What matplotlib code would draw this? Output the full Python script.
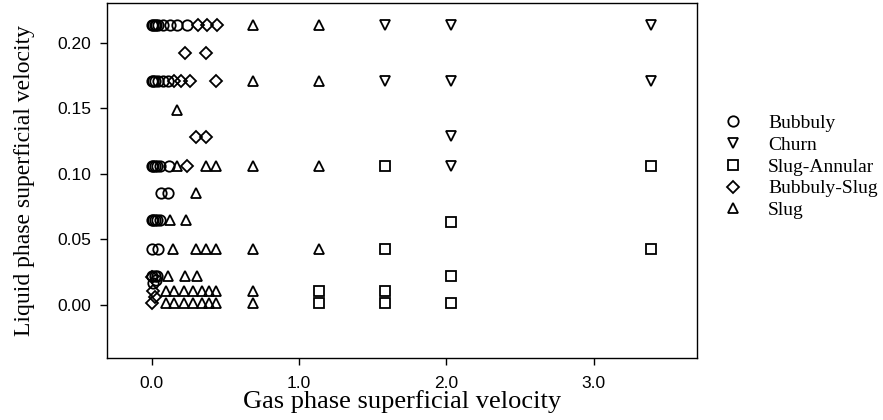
import numpy as np
import matplotlib.pyplot as plt

# Flow regime map data (gas / liquid superficial velocity)
bubbly_x = [0.0, 0.01, 0.02, 0.03, 0.045, 0.08, 0.124, 0.17, 0.237,
            0.0, 0.01, 0.02, 0.045, 0.08, 0.11,
            0.0, 0.01, 0.02, 0.04, 0.06, 0.12,
            0.063, 0.113,
            0.0, 0.01, 0.02, 0.04, 0.06,
            0.0, 0.045,
            0.0, 0.02, 0.04, 0.01, 0.03]
bubbly_y = [0.2135] * 9 + [0.1708] * 6 + [0.106] * 6 + [0.0857] * 2 + \
           [0.0649] * 5 + [0.0425] * 2 + [0.0219] * 3 + [0.017, 0.019]

churn_x = [1.584, 2.034, 3.39, 1.584, 2.034, 3.39, 2.034, 2.034]
churn_y = [0.2135, 0.2135, 0.2135, 0.1708, 0.1708, 0.1708, 0.1289, 0.106]

annular_x = [1.584, 3.39, 2.034, 1.584, 3.39, 2.034, 1.135, 1.584, 1.135, 1.584, 2.034]
annular_y = [0.106, 0.106, 0.0636, 0.0425, 0.0425, 0.0219, 0.0109, 0.0109, 0.0013, 0.0013, 0.0013]

bslug_x = [0.316, 0.377, 0.445, 0.226, 0.368, 0.15, 0.2, 0.26, 0.436,
           0.30, 0.37, 0.24, 0.0, 0.01, 0.02, 0.0]
bslug_y = [0.2135, 0.2135, 0.2135, 0.192, 0.192, 0.1708, 0.1708, 0.1708, 0.1708,
           0.128, 0.128, 0.106, 0.021, 0.0109, 0.006, 0.0013]

slug_x = [0.685, 1.135, 0.685, 1.135, 0.17,
          0.17, 0.368, 0.436, 0.685, 1.135,
          0.30, 0.128, 0.233,
          0.147, 0.30, 0.368, 0.436, 0.685, 1.135,
          0.113, 0.226, 0.305,
          0.1, 0.15, 0.22, 0.28, 0.34, 0.39, 0.44, 0.685,
          0.1, 0.15, 0.22, 0.28, 0.34, 0.39, 0.44, 0.685]
slug_y = [0.2135, 0.2135, 0.1708, 0.1708, 0.149] + [0.106] * 5 + [0.0857] + \
         [0.0649] * 2 + [0.0425] * 6 + [0.0219] * 3 + [0.0109] * 8 + [0.0013] * 8

xticks = [0.0, 1.0, 2.0, 3.0]
yticks = [0.0, 0.05, 0.10, 0.15, 0.20]

fig = plt.figure(figsize=(8.83, 4.2), dpi=100)
ax = fig.add_axes([0.1208, 0.1476, 0.6682, 0.846])

kw = dict(linestyle='none', markerfacecolor='none', markeredgecolor='black', markeredgewidth=1.3)
ax.plot(bubbly_x, bubbly_y, marker='o', markersize=7.5, label='Bubbuly', **kw)
ax.plot(churn_x, churn_y, marker='v', markersize=7.5, label='Churn', **kw)
ax.plot(annular_x, annular_y, marker='s', markersize=6.5, label='Slug-Annular', **kw)
ax.plot(bslug_x, bslug_y, marker='D', markersize=6.5, label='Bubbuly-Slug', **kw)
ax.plot(slug_x, slug_y, marker='^', markersize=7.5, label='Slug', **kw)

ax.set_xlim(-0.305, 3.70)
ax.set_ylim(-0.0404, 0.2305)
ax.set_xticks(xticks)
ax.set_xticklabels(['%.1f' % t for t in xticks])
ax.set_yticks(yticks)
ax.set_yticklabels(['%.2f' % t for t in yticks])
ax.tick_params(direction='out', length=5, width=1, labelsize=12.5)
ax.tick_params(axis='x', pad=8)
ax.tick_params(axis='y', pad=6)
for lab in ax.get_xticklabels() + ax.get_yticklabels():
    lab.set_family('Liberation Sans')
for s in ax.spines.values():
    s.set_linewidth(1.0)

ax.set_xlabel('Gas phase superficial velocity', family='Liberation Serif', fontsize=19, labelpad=-1)
ax.set_ylabel('Liquid phase superficial velocity', family='Liberation Serif', fontsize=17, labelpad=16)

ax.legend(loc='center left', bbox_to_anchor=(1.022, 0.538), frameon=False,
          prop={'family': 'Liberation Serif', 'size': 14}, handletextpad=1.0,
          labelspacing=0.21, borderaxespad=0, handlelength=1.6)

fig.savefig('out.png', dpi=100)
